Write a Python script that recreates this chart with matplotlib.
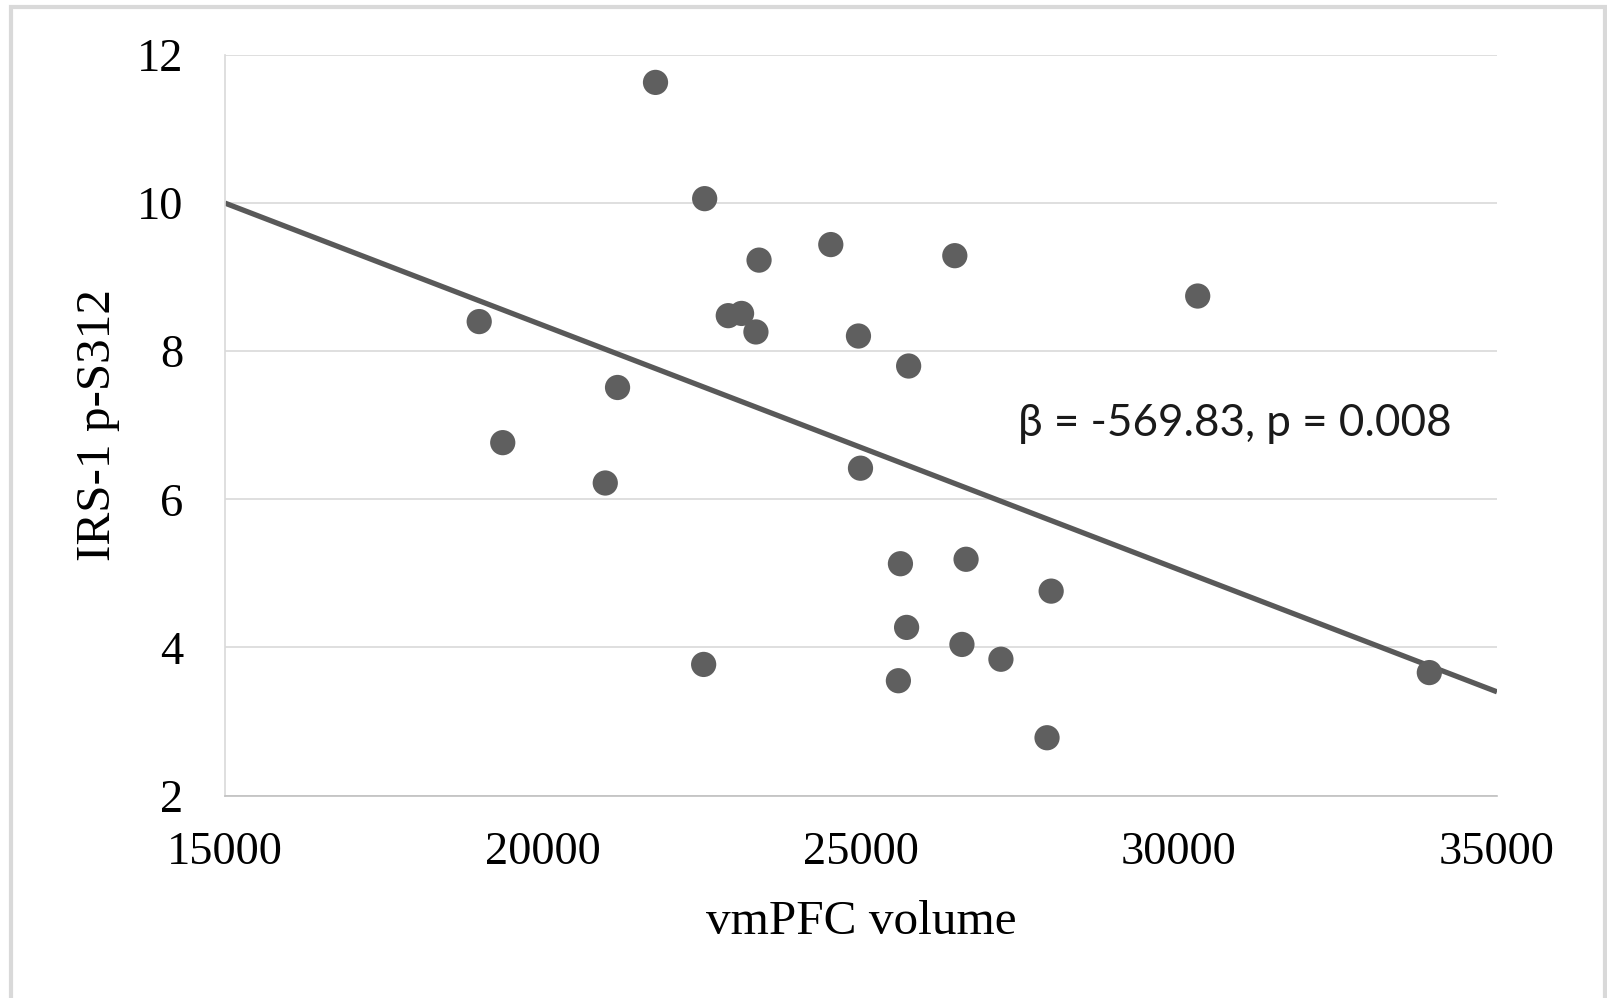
import matplotlib.pyplot as plt
from matplotlib.patches import Rectangle

# vmPFC volume vs IRS-1 p-S312
volume = [21769, 22542, 23397, 24525, 26475, 30294, 18997, 22913, 23122, 23348,
          24960, 25749, 21172, 19367, 20979, 24992, 25620, 26652, 27990, 25717,
          26587, 27200, 22526, 25588, 27925, 33936]
irs = [11.63, 10.06, 9.23, 9.44, 9.29, 8.745, 8.40, 8.48, 8.51, 8.26,
       8.205, 7.80, 7.51, 6.765, 6.22, 6.42, 5.13, 5.19, 4.76, 4.27,
       4.04, 3.84, 3.77, 3.55, 2.78, 3.66]

trend_x = [15000, 35000]
trend_y = [10.0, 3.4]

x_ticks = [15000, 20000, 25000, 30000, 35000]
y_ticks = [2, 4, 6, 8, 10, 12]

serif = ['Liberation Serif', 'DejaVu Serif']
grey = '#5f5f5f'

fig = plt.figure(figsize=(16.08, 9.98), dpi=100)
ax = fig.add_axes([225 / 1608, 1 - 795.5 / 998, (1497 - 225) / 1608, (795.5 - 55) / 998])

ax.plot(trend_x, trend_y, color='#595959', lw=3.8, zorder=2, solid_capstyle='butt')
ax.scatter(volume, irs, s=330, color=grey, edgecolors='none', zorder=3)

ax.set_xlim(15000, 35000)
ax.set_ylim(2, 12)
ax.set_xticks(x_ticks)
ax.set_yticks(y_ticks)
ax.grid(axis='y', color='#d9d9d9', lw=1.2, zorder=0)
ax.set_axisbelow(True)

for s in ['top', 'right']:
    ax.spines[s].set_visible(False)
ax.spines['left'].set_color('#d9d9d9')
ax.spines['left'].set_linewidth(1.2)
ax.spines['bottom'].set_color('#c0c0c0')
ax.spines['bottom'].set_linewidth(1.2)

ax.tick_params(length=0, labelsize=33.5, pad=30)
ax.tick_params(axis='x', pad=26)
for lab in ax.get_xticklabels() + ax.get_yticklabels():
    lab.set_family(serif)

ax.set_xlabel('vmPFC volume', family=serif, fontsize=35.5, labelpad=19)
ax.set_ylabel('IRS-1 p-S312', family=serif, fontsize=35.5, labelpad=12)

ax.text(27470, 6.85, 'β = -569.83, p = 0.008', family=['Lato', 'DejaVu Sans'],
        fontsize=31.7, color='#1a1a1a', ha='left', va='baseline')

fig.patches.append(Rectangle((11 / 1608, -0.05), (1605 - 11) / 1608, (998 - 7) / 998 + 0.05,
                             transform=fig.transFigure, fill=False, ec='#d9d9d9', lw=3))

fig.savefig('out.png', dpi=100)
